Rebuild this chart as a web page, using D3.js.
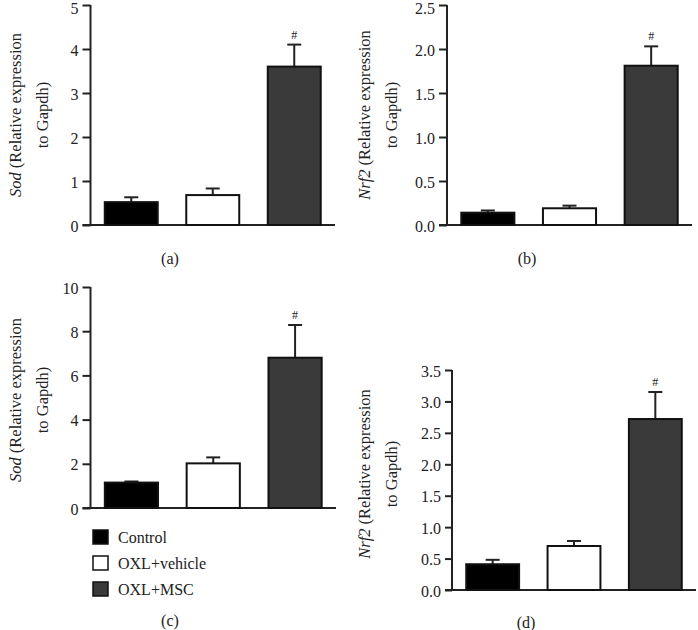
<!DOCTYPE html>
<html>
<head>
<meta charset="utf-8">
<script src="https://cdn.jsdelivr.net/npm/d3@7"></script>
<style>
  body { margin: 0; background: #fff; }
  svg { display: block; }
  text { font-family: "Liberation Serif", "Times New Roman", serif; fill: #222; }
</style>
</head>
<body>
<svg id="chart" width="698" height="630"></svg>
<script>
// ---- data ----
const groups = ["Control", "OXL+vehicle", "OXL+MSC"];
const groupColors = ["#000000", "#ffffff", "#3a3a3a"];

const sodA = [0.52, 0.68, 3.6];
const sodAErr = [0.11, 0.15, 0.5];
const nrf2B = [0.14, 0.19, 1.81];
const nrf2BErr = [0.025, 0.03, 0.22];
const sodC = [1.15, 2.02, 6.8];
const sodCErr = [0.05, 0.27, 1.48];
const nrf2D = [0.41, 0.70, 2.72];
const nrf2DErr = [0.07, 0.08, 0.43];

const ticksA = [0, 1, 2, 3, 4, 5];
const ticksB = [0, 0.5, 1.0, 1.5, 2.0, 2.5];
const ticksC = [0, 2, 4, 6, 8, 10];
const ticksD = [0, 0.5, 1.0, 1.5, 2.0, 2.5, 3.0, 3.5];

const sigMark = ["", "", "#"];
const panelLabels = ["(a)", "(b)", "(c)", "(d)"];

const svg = d3.select("#chart");

function panel(cfg) {
  const g = svg.append("g");
  const y = d3.scaleLinear().domain([0, cfg.max]).range([cfg.y0, cfg.y1]);
  const x = d3.scaleBand().domain(groups).range([cfg.ax, cfg.xEnd])
    .paddingInner(0.35).paddingOuter(0.175);

  // y axis
  const yAxis = d3.axisLeft(y).tickValues(cfg.ticks)
    .tickFormat(cfg.fmt).tickSize(cfg.tick).tickPadding(4);
  const ya = g.append("g").attr("transform", `translate(${cfg.ax},0)`).call(yAxis);
  ya.select(".domain").attr("stroke", "#222").attr("stroke-width", 2)
    .attr("d", `M0,${cfg.y0}V${cfg.y1}`);
  ya.selectAll(".tick line").attr("stroke", "#222").attr("stroke-width", 2);
  ya.selectAll(".tick text").attr("font-size", 16)
    .attr("dy", d => (y(d) < 12 ? "0.5em" : "0.38em"))
    .attr("fill", "#222");

  // x baseline
  g.append("line")
    .attr("x1", cfg.ax - cfg.tick).attr("x2", cfg.xEnd)
    .attr("y1", y(0)).attr("y2", y(0))
    .attr("stroke", "#222").attr("stroke-width", 2);

  // error bars (upper only)
  const cap = 14;
  groups.forEach((gname, i) => {
    const cx = x(gname) + x.bandwidth() / 2;
    const top = y(cfg.vals[i] + cfg.errs[i]);
    g.append("line").attr("x1", cx).attr("x2", cx)
      .attr("y1", y(cfg.vals[i])).attr("y2", top)
      .attr("stroke", "#222").attr("stroke-width", 2);
    g.append("line").attr("x1", cx - cap / 2).attr("x2", cx + cap / 2)
      .attr("y1", top).attr("y2", top)
      .attr("stroke", "#222").attr("stroke-width", 2);
    if (sigMark[i]) {
      g.append("text").attr("x", cx).attr("y", top - 6)
        .attr("text-anchor", "middle").attr("font-size", 12)
        .text(sigMark[i]);
    }
  });

  // bars
  g.selectAll("rect.bar").data(cfg.vals).enter().append("rect")
    .attr("class", "bar")
    .attr("x", (d, i) => x(groups[i]))
    .attr("width", x.bandwidth())
    .attr("y", d => y(d))
    .attr("height", d => y(0) - y(d))
    .attr("fill", (d, i) => groupColors[i])
    .attr("stroke", "#111").attr("stroke-width", 2);

  // y label (two lines, rotated)
  const lab = g.append("g");
  const t1 = lab.append("text")
    .attr("transform", `translate(${cfg.lx1},${cfg.lcy}) rotate(-90)`)
    .attr("text-anchor", "middle").attr("dominant-baseline", "central")
    .attr("font-size", 16.5);
  t1.append("tspan").attr("font-style", "italic").text(cfg.gene);
  t1.append("tspan").text(" (Relative expression");
  lab.append("text")
    .attr("transform", `translate(${cfg.lx2},${cfg.lcy}) rotate(-90)`)
    .attr("text-anchor", "middle").attr("dominant-baseline", "central")
    .attr("font-size", 16.5).text("to Gapdh)");

  // panel label
  g.append("text").attr("x", cfg.px).attr("y", cfg.py)
    .attr("text-anchor", "middle").attr("dominant-baseline", "central")
    .attr("font-size", 16).text(cfg.plabel);
}

const f0 = d3.format("d"), f1 = d3.format(".1f");

panel({ vals: sodA, errs: sodAErr, max: 5, ticks: ticksA, fmt: f0, gene: "Sod",
  ax: 90.5, xEnd: 335, y0: 225, y1: 5, tick: 8,
  lx1: 15, lx2: 42, lcy: 115, px: 170, py: 258, plabel: panelLabels[0] });
panel({ vals: nrf2B, errs: nrf2BErr, max: 2.5, ticks: ticksB, fmt: f1, gene: "Nrf2",
  ax: 447, xEnd: 692, y0: 225, y1: 5, tick: 8,
  lx1: 364, lx2: 391, lcy: 115, px: 527, py: 258, plabel: panelLabels[1] });
panel({ vals: sodC, errs: sodCErr, max: 10, ticks: ticksC, fmt: f0, gene: "Sod",
  ax: 90.5, xEnd: 336, y0: 508, y1: 287, tick: 8,
  lx1: 15, lx2: 42, lcy: 400, px: 170, py: 620, plabel: panelLabels[2] });
panel({ vals: nrf2D, errs: nrf2DErr, max: 3.5, ticks: ticksD, fmt: f1, gene: "Nrf2",
  ax: 452, xEnd: 696, y0: 590, y1: 370, tick: 7,
  lx1: 364, lx2: 391, lcy: 474, px: 526, py: 622, plabel: panelLabels[3] });

// legend
const leg = svg.append("g");
const legY = d3.scalePoint().domain(groups).range([537, 589]);
groups.forEach((gname, i) => {
  leg.append("rect").attr("x", 93).attr("y", legY(gname) - 7)
    .attr("width", 15).attr("height", 14)
    .attr("fill", groupColors[i]).attr("stroke", "#111").attr("stroke-width", 1.5);
  leg.append("text").attr("x", 118).attr("y", legY(gname))
    .attr("dominant-baseline", "central").attr("font-size", 16).text(gname);
});
</script>
</body>
</html>
